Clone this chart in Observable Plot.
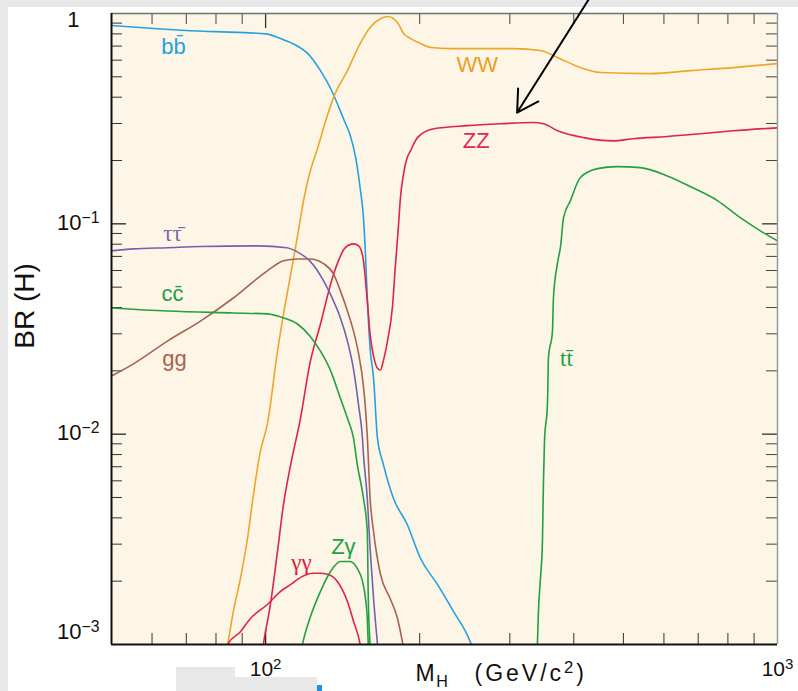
<!DOCTYPE html>
<html><head><meta charset="utf-8">
<script src="https://cdn.jsdelivr.net/npm/d3@7"></script>
<script src="https://cdn.jsdelivr.net/npm/@observablehq/plot@0.6"></script>
<style>
html,body{margin:0;padding:0;background:#fff;}
#wrap{position:relative;width:798px;height:691px;overflow:hidden;}
.deco{position:absolute;background:#e8e8e8;}
#chart{position:absolute;left:0;top:0;}
</style></head><body>
<div id="wrap">
<div class="deco" style="left:0;top:0;width:798px;height:7px"></div>
<div class="deco" style="left:0;top:0;width:8px;height:691px"></div>
<div class="deco" style="left:176px;top:667px;width:59px;height:24px"></div>
<div class="deco" style="left:176px;top:677px;width:141px;height:14px"></div>
<div class="deco" style="left:317px;top:685px;width:5px;height:6px;background:#1e90e8"></div>
<div id="chart"></div>
</div>
<script>
// ---- data (Higgs mass in GeV/c^2, branching ratio) ----
const bbMass = [50, 60.5, 70, 80, 100, 107, 112, 122, 128, 134, 142.5, 146, 150, 153, 155.3, 156.7, 158, 160, 162.5, 165.4, 169.8, 177.7, 189, 200.7, 216.6, 232.8, 251, 254];
const bbBR   = [0.877, 0.848, 0.83, 0.82, 0.80, 0.76, 0.727, 0.63, 0.535, 0.44, 0.309, 0.268, 0.206, 0.148, 0.107, 0.072, 0.0444, 0.0257, 0.0185, 0.00957, 0.0072, 0.00496, 0.00373, 0.00257, 0.00193, 0.001436, 0.00103, 0.00095];

const wwMass = [83.5, 84.3, 86.5, 89.3, 92.2, 94.7, 97.7, 100.8, 105.5, 108.4, 112, 115.9, 118.6, 122, 126.3, 132, 135.7, 144.5, 153, 160, 168, 173, 181, 186, 192, 200.7, 210, 230, 305, 344, 376, 412, 451, 564, 676, 820, 1000];
const wwBR   = [0.00088, 0.001, 0.001436, 0.00206, 0.0032, 0.00518, 0.0083, 0.01116, 0.0248, 0.0373, 0.0578, 0.0926, 0.129, 0.175, 0.228, 0.327, 0.398, 0.535, 0.72, 0.858, 0.947, 0.968, 0.906, 0.803, 0.76, 0.72, 0.689, 0.681, 0.681, 0.667, 0.61, 0.553, 0.524, 0.518, 0.535, 0.553, 0.578];

const zzMass = [98.4, 99, 102.2, 105.5, 108.4, 112, 117, 122, 128, 134, 138, 143, 148.5, 152, 155, 158, 160, 162.5, 165.4, 167.6, 169.8, 173, 177, 179, 181.8, 183.4, 186, 189, 192, 198, 213, 248, 288, 333, 349, 372, 418, 478, 523, 609, 706, 820, 1000];
const zzBR   = [0.0009, 0.001, 0.00155, 0.00277, 0.00464, 0.0072, 0.0119, 0.0216, 0.0334, 0.0518, 0.0645, 0.0769, 0.0803, 0.0786, 0.0689, 0.043, 0.0299, 0.0235, 0.0206, 0.0202, 0.0223, 0.0277, 0.0407, 0.0598, 0.098, 0.133, 0.173, 0.206, 0.223, 0.257, 0.283, 0.293, 0.299, 0.303, 0.299, 0.277, 0.257, 0.248, 0.254, 0.26, 0.268, 0.277, 0.286];

const ttMass = [339.2, 339.6, 341.2, 344.3, 347.4, 349, 350.6, 355.3, 356.9, 363.4, 365, 371.5, 377, 382, 394, 412, 445, 486, 540, 609, 685, 763, 846, 926, 1000];
const ttBR   = [0.0009, 0.001, 0.001436, 0.00206, 0.0031, 0.00597, 0.00926, 0.0139, 0.023, 0.0309, 0.0444, 0.0645, 0.0786, 0.107, 0.129, 0.166, 0.183, 0.187, 0.185, 0.169, 0.148, 0.129, 0.107, 0.0926, 0.083];

const tauMass = [50, 55.2, 64.3, 74.6, 96.4, 110, 117, 122, 126.3, 132, 135.7, 140, 144.5, 148.5, 152, 154.6, 155.3, 158, 160, 162.5, 165.4, 166];
const tauBR   = [0.0744, 0.076, 0.077, 0.078, 0.0786, 0.077, 0.072, 0.0667, 0.0598, 0.0496, 0.043, 0.0357, 0.0277, 0.0204, 0.0136, 0.00957, 0.00803, 0.00496, 0.00287, 0.00166, 0.001, 0.0009];

const gluMass = [50, 55.2, 64.3, 74.6, 86.5, 100.8, 108.4, 115.4, 122, 130, 135.7, 140, 144.5, 148.5, 152, 155.3, 156.7, 158, 160, 162.5, 167.6, 175, 181, 185, 186];
const gluBR   = [0.0189, 0.0216, 0.0277, 0.0345, 0.0444, 0.0598, 0.0667, 0.068, 0.068, 0.0645, 0.0578, 0.048, 0.0385, 0.0309, 0.024, 0.0169, 0.0133, 0.00978, 0.00496, 0.00345, 0.00216, 0.00166, 0.00133, 0.00103, 0.00095];

const ccMass = [50, 64.3, 86.5, 100.8, 108.4, 115.4, 122, 128, 134, 140, 144.5, 148.5, 151, 155.3, 158, 158.7, 160, 160.4];
const ccBR   = [0.0398, 0.0385, 0.0377, 0.0373, 0.0357, 0.0334, 0.0293, 0.0248, 0.02, 0.0148, 0.0119, 0.00957, 0.0072, 0.00496, 0.00345, 0.00166, 0.001, 0.0009];

const gamMass = [83.6, 84.3, 89.3, 93.4, 100.8, 107, 112, 115.4, 124, 128, 132, 138, 144.5, 148.5, 153, 154];
const gamBR   = [0.00095, 0.001, 0.00115, 0.00133, 0.00155, 0.00179, 0.00193, 0.00204, 0.00218, 0.00218, 0.00216, 0.002, 0.0016, 0.00129, 0.001, 0.0009];

const zgMass = [117, 118, 122, 128, 134, 140, 146, 151, 154.6, 156.7, 158, 158.7, 159];
const zgBR   = [0.0009, 0.001, 0.00133, 0.00179, 0.00223, 0.00248, 0.00248, 0.0023, 0.002, 0.00166, 0.00133, 0.001, 0.0009];

// curve labels
const labelText = ["bb\u0304", "WW", "ZZ", "tt\u0304", "\u03c4\u03c4\u0304", "cc\u0304", "gg", "\u03b3\u03b3", "Z\u03b3"];
const labelMass = [66.1, 259, 258, 387, 65.8, 65.8, 66.4, 117.5, 141.9];
const labelBR   = [0.697, 0.572, 0.248, 0.0228, 0.0897, 0.0464, 0.0228, 0.00246, 0.0029];
const labelSerif = [false, false, false, true, true, false, false, true, false];

// axis ticks and labels
const xMinorTicks = [60, 70, 80, 90, 200, 300, 400, 500, 600, 700, 800, 900];
const xMajorTicks = [100];
const xTickLabelValues = [100, 1000];
const xTickLabels = ["10^{2}", "10^{3}"];
const yMinorTicks = [0.002, 0.003, 0.004, 0.005, 0.006, 0.007, 0.008, 0.009,
                     0.02, 0.03, 0.04, 0.05, 0.06, 0.07, 0.08, 0.09,
                     0.2, 0.3, 0.4, 0.5, 0.6, 0.7, 0.8, 0.9];
const yMajorTicks = [0.01, 0.1];
const yTickLabelValues = [1, 0.1, 0.01, 0.001];
const yTickLabels = ["1", "10^{\u22121}", "10^{\u22122}", "10^{\u22123}"];
const xTitle = ["M_{H}", "(GeV/c^{2})"];
const yTitle = "BR (H)";
const arrowFrom = [429, 1.18];
const arrowTo = [310, 0.338];

// ---- styles ----
const colors = {
  bb: "#25a0e2", ww: "#f0a428", zz: "#de2448", tt: "#22a044", tau: "#7660ae",
  glu: "#a8624f", cc: "#22a044", gam: "#de2448", zg: "#22a044"
};
const labelColors = ["#22a0e2", "#eaa024", "#e02a4e", "#1f9c40", "#7a68b2", "#22a044", "#a8624f", "#da2244", "#22a044"];

const W = 798, H = 691, mL = 111, mR = 21, mT = 13, mB = 47;
const innerW = W - mL - mR, innerH = H - mT - mB;
const major = 15, minor = 11;
const sans = "'Liberation Sans', Arial, Helvetica, sans-serif";
const serif = "'Liberation Serif', 'Times New Roman', serif";

const pairs = (ms, bs) => ms.map((m, i) => [m, bs[i]]);
const series = [
  [bbMass, bbBR, colors.bb], [wwMass, wwBR, colors.ww], [zzMass, zzBR, colors.zz],
  [ttMass, ttBR, colors.tt], [tauMass, tauBR, colors.tau], [gluMass, gluBR, colors.glu],
  [ccMass, ccBR, colors.cc], [gamMass, gamBR, colors.gam], [zgMass, zgBR, colors.zg]
];
const labels = labelText.map((t, i) => ({t, m: labelMass[i], br: labelBR[i], c: labelColors[i], serif: labelSerif[i]}));

const plot = Plot.plot({
  width: W, height: H,
  marginLeft: mL, marginRight: mR, marginTop: mT, marginBottom: mB,
  style: {background: "transparent", fontFamily: sans, overflow: "visible"},
  x: {type: "log", domain: [50, 1000], axis: null},
  y: {type: "log", domain: [1e-3, 1], axis: null},
  marks: [
    Plot.frame({fill: "#fdf6e6", stroke: "none"}),
    // ticks (inside)
    Plot.tickY(yMinorTicks, {y: d => d, insetRight: innerW - minor, stroke: "#333"}),
    Plot.tickY(yMajorTicks, {y: d => d, insetRight: innerW - major, stroke: "#222", strokeWidth: 1.3}),
    Plot.tickY(yMinorTicks, {y: d => d, insetLeft: innerW - minor, stroke: "#444"}),
    Plot.tickY(yMajorTicks, {y: d => d, insetLeft: innerW - major, stroke: "#333", strokeWidth: 1.3}),
    Plot.tickX(xMinorTicks, {x: d => d, insetTop: innerH - minor, stroke: "#333"}),
    Plot.tickX(xMajorTicks, {x: d => d, insetTop: innerH - major, stroke: "#222", strokeWidth: 1.3}),
    Plot.tickX(xMinorTicks, {x: d => d, insetBottom: innerH - minor, stroke: "#444"}),
    Plot.tickX(xMajorTicks, {x: d => d, insetBottom: innerH - major, stroke: "#333", strokeWidth: 1.3}),
    // curves
    ...series.map(([ms, bs, c]) => Plot.line(pairs(ms, bs), {stroke: c, strokeWidth: 1.6, curve: "monotone-x", clip: true})),
    // frame edges
    Plot.ruleY([1], {stroke: "#6f6f6f", strokeWidth: 1.5}),
    Plot.ruleX([1000], {stroke: "#9a9a9a", strokeWidth: 1.5}),
    Plot.ruleX([50], {stroke: "#111", strokeWidth: 2}),
    Plot.ruleY([1e-3], {stroke: "#111", strokeWidth: 2}),
    // curve labels
    Plot.text(labels, {filter: d => !d.serif, x: "m", y: "br", text: "t", fill: "c", fontSize: 22, fontFamily: sans}),
    Plot.text(labels, {filter: d => d.serif, x: "m", y: "br", text: "t", fill: "c", fontSize: 23, fontFamily: serif}),
    // tick labels
    Plot.text(yTickLabelValues.slice(1, 3), {y: d => d, text: (d, i) => yTickLabels[i + 1], frameAnchor: "left", textAnchor: "end", dx: -12, dy: -1, fontSize: 22, fill: "#111"}),
    Plot.text([yTickLabelValues[0]], {y: d => d, text: () => yTickLabels[0], frameAnchor: "left", textAnchor: "end", dx: -32, dy: 6, fontSize: 22, fill: "#111"}),
    Plot.text([yTickLabelValues[3]], {y: d => d, text: () => yTickLabels[3], frameAnchor: "left", textAnchor: "end", dx: -12, dy: -13, fontSize: 22, fill: "#111"}),
    Plot.text(xTickLabelValues, {x: d => d, text: (d, i) => xTickLabels[i], frameAnchor: "bottom", textAnchor: "middle", lineAnchor: "bottom", dy: 31, fontSize: 21, fill: "#111"}),
    // axis titles
    Plot.text([xTitle[0]], {frameAnchor: "bottom-left", textAnchor: "start", lineAnchor: "bottom", dx: 304, dy: 36, fontSize: 23, fill: "#111"}),
    Plot.text([xTitle[1]], {frameAnchor: "bottom-left", textAnchor: "start", lineAnchor: "bottom", dx: 363, dy: 36, fontSize: 23, fill: "#111"}),
    Plot.text([yTitle], {frameAnchor: "left", textAnchor: "middle", lineAnchor: "bottom", rotate: -90, dx: -78, dy: -23, fontSize: 28, fill: "#111"}),
    // arrow
    Plot.arrow([[arrowFrom, arrowTo]], {x1: d => d[0][0], y1: d => d[0][1], x2: d => d[1][0], y2: d => d[1][1], stroke: "#000", strokeWidth: 2, headLength: 18})
  ]
});
document.getElementById("chart").appendChild(plot);

// superscript / subscript rendering as real tspans
d3.select(plot).selectAll("text").filter(function() { return this.textContent.startsWith("(GeV"); }).attr("letter-spacing", "3");
d3.select(plot).selectAll("text").filter(function() { return this.textContent.startsWith("M_"); }).attr("letter-spacing", "1.5");
function richText(root) {
  root.querySelectorAll("text").forEach(t => {
    const s = t.textContent;
    if (!/[\^_]\{/.test(s)) return;
    const fs = parseFloat(getComputedStyle(t).fontSize) || 20;
    t.textContent = "";
    const re = /([\^_])\{([^}]*)\}/g;
    let last = 0, m;
    const add = (str, kind) => {
      if (!str) return;
      const ts = document.createElementNS("http://www.w3.org/2000/svg", "tspan");
      ts.textContent = str;
      if (kind) {
        ts.setAttribute("font-size", (fs * (kind === "^" ? 0.72 : 0.7)).toFixed(1));
        ts.setAttribute("baseline-shift", kind === "^" ? (fs * 0.34).toFixed(1) : (-fs * 0.28).toFixed(1));
      }
      t.appendChild(ts);
    };
    while ((m = re.exec(s))) { add(s.slice(last, m.index)); add(m[2], m[1]); last = re.lastIndex; }
    add(s.slice(last));
  });
}
richText(plot);
</script>
</body></html>
